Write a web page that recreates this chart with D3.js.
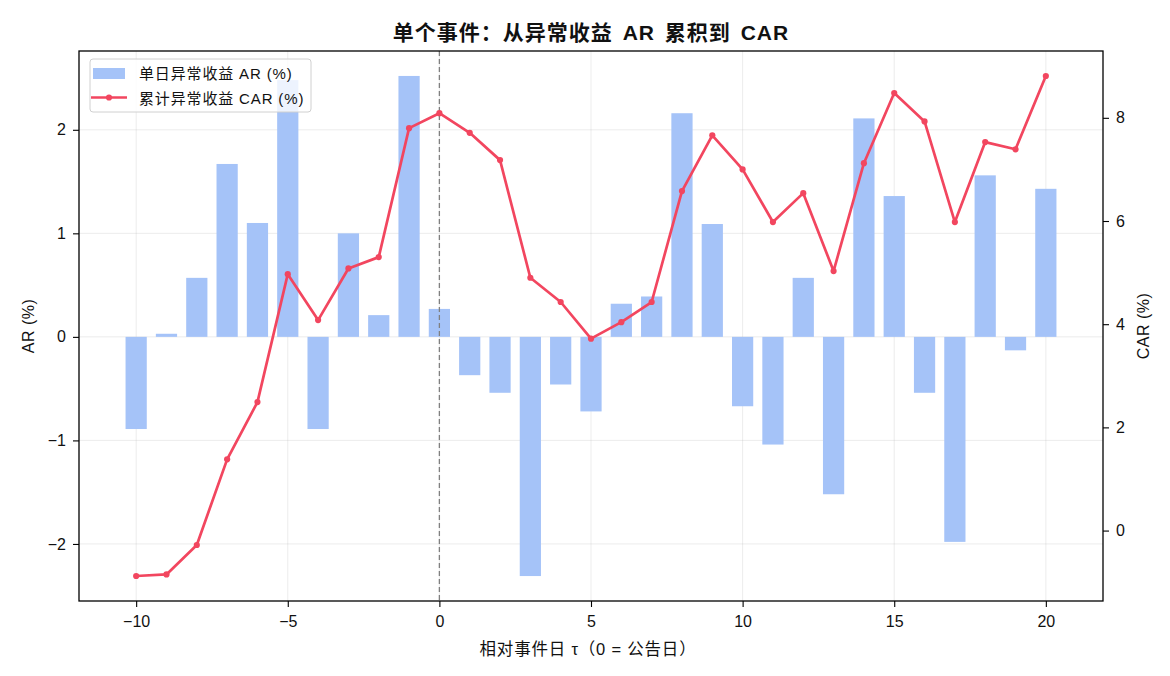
<!DOCTYPE html>
<html>
<head>
<meta charset="utf-8">
<script src="https://cdn.jsdelivr.net/npm/d3@7"></script>
<style>
  html, body { margin: 0; padding: 0; background: #fff; }
  svg text { font-family: "Liberation Sans", "Noto Sans CJK SC", sans-serif; fill: #111; }
</style>
</head>
<body>
<svg id="chart" width="1170" height="676"></svg>
<script>
const tau = [-10,-9,-8,-7,-6,-5,-4,-3,-2,-1,0,1,2,3,4,5,6,7,8,9,10,11,12,13,14,15,16,17,18,19,20];
const arValues = [-0.89,0.03,0.57,1.67,1.10,2.48,-0.89,1.00,0.21,2.52,0.27,-0.37,-0.54,-2.31,-0.46,-0.72,0.32,0.39,2.16,1.09,-0.67,-1.04,0.57,-1.52,2.11,1.36,-0.54,-1.98,1.56,-0.13,1.43];
const carValues = [-0.88,-0.85,-0.28,1.38,2.49,4.97,4.08,5.08,5.30,7.80,8.09,7.71,7.18,4.90,4.43,3.72,4.04,4.43,6.58,7.66,7.00,5.98,6.54,5.03,7.12,8.48,7.93,5.98,7.53,7.39,8.81];
const xTicks = [-10,-5,0,5,10,15,20];
const arTicks = [-2,-1,0,1,2];
const carTicks = [0,2,4,6,8];
const title = "单个事件：从异常收益 AR 累积到 CAR";
const xLabel = "相对事件日 τ（0 = 公告日）";
const yLabelLeft = "AR (%)";
const yLabelRight = "CAR (%)";
const legendLabels = ["单日异常收益 AR (%)", "累计异常收益 CAR (%)"];

const barColor = "#a5c3f8";
const lineColor = "#f2465f";

const m = {left: 79, right: 1103, top: 51, bottom: 601};
const svg = d3.select("#chart");

const x = d3.scaleLinear().domain([-11.885, 21.885]).range([m.left, m.right]);
const yL = d3.scaleLinear().domain([-2.551, 2.761]).range([m.bottom, m.top]);
const yR = d3.scaleLinear().domain([-1.365, 9.295]).range([m.bottom, m.top]);
const barW = 0.7;

const fmt = d => d < 0 ? "\u2212" + Math.abs(d) : String(d);

// grid
const grid = svg.append("g");
grid.selectAll("line.gx").data(xTicks).enter().append("line")
  .attr("x1", d => x(d)).attr("x2", d => x(d))
  .attr("y1", m.top).attr("y2", m.bottom)
  .attr("stroke", "#b0b0b0").attr("stroke-opacity", 0.3).attr("stroke-width", 0.8);
grid.selectAll("line.gy").data(arTicks).enter().append("line")
  .attr("x1", m.left).attr("x2", m.right)
  .attr("y1", d => yL(d)).attr("y2", d => yL(d))
  .attr("stroke", "#b0b0b0").attr("stroke-opacity", 0.3).attr("stroke-width", 0.8);

// bars
svg.append("g").selectAll("rect").data(tau).enter().append("rect")
  .attr("x", (d) => x(d - barW / 2))
  .attr("width", (d) => x(d + barW / 2) - x(d - barW / 2))
  .attr("y", (d, i) => yL(Math.max(0, arValues[i])))
  .attr("height", (d, i) => Math.abs(yL(arValues[i]) - yL(0)))
  .attr("fill", barColor);

// vertical dashed line at 0
svg.append("line")
  .attr("x1", x(0)).attr("x2", x(0)).attr("y1", m.top).attr("y2", m.bottom)
  .attr("stroke", "#808080").attr("stroke-width", 1.3).attr("stroke-dasharray", "5,3");

// CAR line
const line = d3.line().x((d, i) => x(tau[i])).y(d => yR(d));
svg.append("path").datum(carValues)
  .attr("d", line).attr("fill", "none")
  .attr("stroke", lineColor).attr("stroke-width", 2.7).attr("stroke-linejoin", "round");
svg.append("g").selectAll("circle").data(carValues).enter().append("circle")
  .attr("cx", (d, i) => x(tau[i])).attr("cy", d => yR(d)).attr("r", 3.1)
  .attr("fill", lineColor);

// frame
svg.append("rect").attr("x", m.left).attr("y", m.top)
  .attr("width", m.right - m.left).attr("height", m.bottom - m.top)
  .attr("fill", "none").attr("stroke", "#000").attr("stroke-width", 1.3);

// axes
const axB = svg.append("g").attr("transform", `translate(0,${m.bottom})`)
  .call(d3.axisBottom(x).tickValues(xTicks).tickFormat(fmt).tickSize(6).tickPadding(9));
const axL = svg.append("g").attr("transform", `translate(${m.left},0)`)
  .call(d3.axisLeft(yL).tickValues(arTicks).tickFormat(fmt).tickSize(6).tickPadding(7));
const axR = svg.append("g").attr("transform", `translate(${m.right},0)`)
  .call(d3.axisRight(yR).tickValues(carTicks).tickFormat(fmt).tickSize(6).tickPadding(7));
[axB, axL, axR].forEach(a => {
  a.select(".domain").remove();
  a.selectAll("line").attr("stroke", "#000").attr("stroke-width", 1.1);
  a.selectAll("text").style("font-size", "16px").attr("fill", "#111");
});

// labels
svg.append("text").attr("x", (m.left + m.right) / 2).attr("y", 40)
  .attr("text-anchor", "middle").style("font-size", "21px").style("font-weight", "bold")
  .style("letter-spacing", "1px").style("word-spacing", "3px")
  .text(title);
svg.append("text").attr("x", (m.left + m.right) / 2 - 3).attr("y", 655)
  .attr("text-anchor", "middle").style("font-size", "16.5px").style("letter-spacing", "0.8px")
  .text(xLabel);
svg.append("text").attr("transform", `translate(34,${(m.top + m.bottom) / 2}) rotate(-90)`)
  .attr("text-anchor", "middle").style("font-size", "16px").style("letter-spacing", "0.5px").text(yLabelLeft);
svg.append("text").attr("transform", `translate(1149,${(m.top + m.bottom) / 2}) rotate(-90)`)
  .attr("text-anchor", "middle").style("font-size", "16px").style("letter-spacing", "0.5px").text(yLabelRight);

// legend
const lg = svg.append("g").attr("transform", "translate(90,59)");
lg.append("rect").attr("x", 0).attr("y", 0).attr("width", 221).attr("height", 53)
  .attr("rx", 3).attr("fill", "#fff").attr("fill-opacity", 0.8)
  .attr("stroke", "#d0d0d0").attr("stroke-width", 1);
lg.append("rect").attr("x", 3).attr("y", 9).attr("width", 32).attr("height", 11).attr("fill", barColor);
lg.append("line").attr("x1", 1).attr("x2", 37).attr("y1", 38.5).attr("y2", 38.5)
  .attr("stroke", lineColor).attr("stroke-width", 2.7);
lg.append("circle").attr("cx", 19).attr("cy", 38.5).attr("r", 3.1).attr("fill", lineColor);
lg.selectAll("text.lt").data(legendLabels).enter().append("text")
  .attr("x", 49).attr("y", (d, i) => 20 + i * 24.5)
  .style("font-size", "15px").style("letter-spacing", "0.85px").text(d => d);
</script>
</body>
</html>
